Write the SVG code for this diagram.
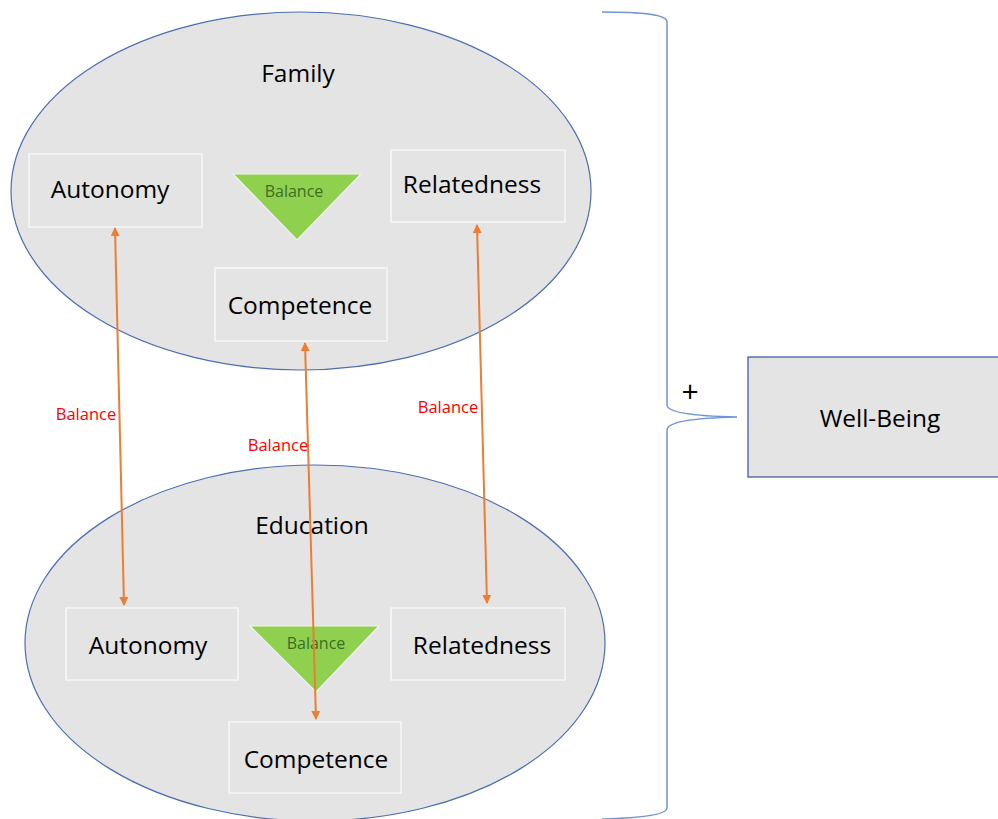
<svg xmlns="http://www.w3.org/2000/svg" width="998" height="819" viewBox="0 0 998 819">
  <defs>
    <marker id="arrowhead" viewBox="0 0 10 10" refX="9" refY="5" markerWidth="4.5" markerHeight="4.5" orient="auto-start-reverse">
      <path d="M0,0 L10,5 L0,10 z" fill="#ED7D31"/>
    </marker>
    <style>
      .domain { fill: #E4E4E4; stroke: #4A6FB0; stroke-width: 1.2; }
      .need { fill: #E4E4E4; stroke: #F7F7F7; stroke-width: 1.5; }
      .tri { fill: #8FD14F; stroke: #F2F2F2; stroke-width: 1.2; }
      .label { font-family: "Open Sans", "Liberation Sans", sans-serif; font-size: 24.5px; fill: #000; text-anchor: middle; }
      .tri-label { font-family: "Open Sans", "Liberation Sans", sans-serif; font-size: 16px; fill: #3B6E22; text-anchor: middle; }
      .link-label { font-family: "Open Sans", "Liberation Sans", sans-serif; font-size: 16.5px; fill: #FF0000; text-anchor: middle; }
      .link { stroke: #ED7D31; stroke-width: 2; fill: none; marker-start: url(#arrowhead); marker-end: url(#arrowhead); }
      .brace { fill: none; stroke: #6F95D6; stroke-width: 1.5; }
      .plus { font-family: "Open Sans", "Liberation Sans", sans-serif; font-size: 30px; fill: #000; text-anchor: middle; }
    </style>
  </defs>

  <rect width="998" height="819" fill="#FFFFFF"/>

  <!-- Family domain -->
  <g id="family">
    <ellipse class="domain" cx="301" cy="191" rx="290" ry="179"/>
    <text class="label" x="298" y="82">Family</text>
  </g>
  <g id="family-autonomy">
    <rect class="need" x="29" y="154" width="173" height="73"/>
    <text class="label" x="110" y="198">Autonomy</text>
  </g>
  <g id="family-balance">
    <polygon class="tri" points="233,174 361,174 297,240"/>
    <text class="tri-label" x="294" y="197">Balance</text>
  </g>
  <g id="family-relatedness">
    <rect class="need" x="391" y="150" width="174" height="72"/>
    <text class="label" x="472" y="193">Relatedness</text>
  </g>
  <g id="family-competence">
    <rect class="need" x="215" y="268" width="172" height="73"/>
    <text class="label" x="300" y="314">Competence</text>
  </g>

  <!-- Education domain -->
  <g id="education">
    <ellipse class="domain" cx="315" cy="643" rx="290" ry="178"/>
    <text class="label" x="312" y="534">Education</text>
  </g>
  <g id="education-autonomy">
    <rect class="need" x="66" y="608" width="172" height="72"/>
    <text class="label" x="148" y="654">Autonomy</text>
  </g>
  <g id="education-balance">
    <polygon class="tri" points="250,626 379,626 316,692"/>
    <text class="tri-label" x="316" y="649">Balance</text>
  </g>
  <g id="education-relatedness">
    <rect class="need" x="391" y="608" width="174" height="72"/>
    <text class="label" x="482" y="654">Relatedness</text>
  </g>
  <g id="education-competence">
    <rect class="need" x="229" y="722" width="172" height="71"/>
    <text class="label" x="316" y="768">Competence</text>
  </g>

  <!-- Outcome -->
  <g id="well-being">
    <rect x="748" y="357" width="252" height="120" fill="#E4E4E4" stroke="#2F5597" stroke-width="1.2"/>
    <text class="label" x="880" y="427">Well-Being</text>
  </g>

  <!-- Connectors -->
  <g id="connectors">
    <line class="link" x1="115" y1="228" x2="124" y2="605"/>
    <line class="link" x1="305" y1="343" x2="316" y2="719"/>
    <line class="link" x1="477" y1="225" x2="487" y2="603"/>
    <text class="link-label" x="86" y="420">Balance</text>
    <text class="link-label" x="278" y="451">Balance</text>
    <text class="link-label" x="448" y="413">Balance</text>

    <path class="brace" d="M602,12 C640,12 667,14 667,22 L667,405 C667,412 690,416 737,417 C690,418 667,422 667,430 L667,808 C667,815 640,818 602,819"/>
    <text class="plus" x="690" y="402">+</text>
  </g>
</svg>
